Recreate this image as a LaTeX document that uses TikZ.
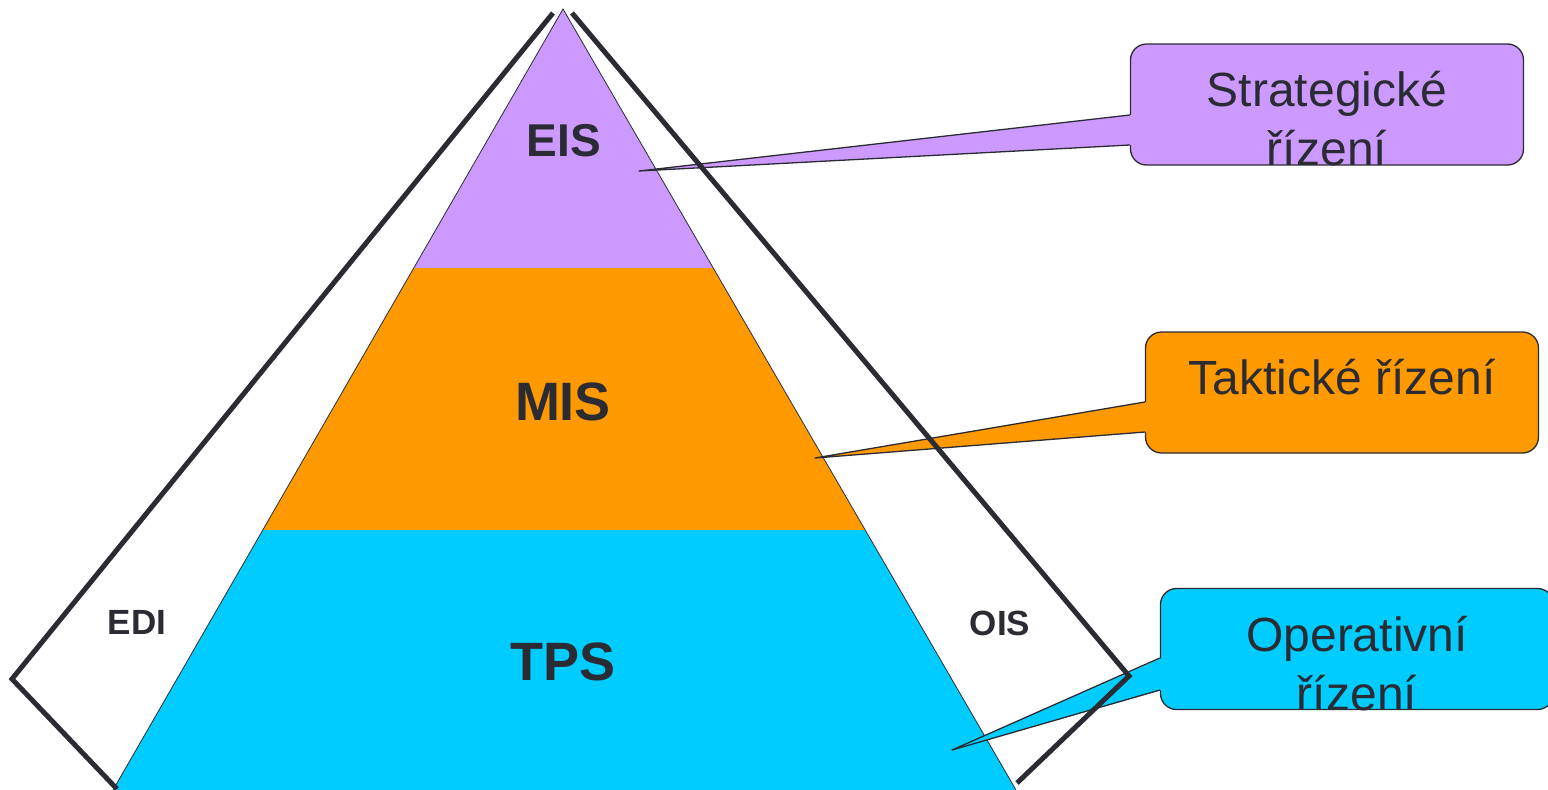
\documentclass[tikz,border=0pt]{standalone}
\usepackage{fontspec}
\setmainfont{Liberation Sans}
\usepackage{tikz}
\usetikzlibrary{positioning}
\definecolor{fialova}{HTML}{CC99FF}
\definecolor{oranzova}{HTML}{FF9900}
\definecolor{modra}{HTML}{00CCFF}
\definecolor{tmava}{HTML}{2B2B33}
\tikzset{
    %Define style for callout boxes
    bublina/.style={
           rectangle,
           rounded corners=16pt,
           draw=tmava,
           line width=1.3pt,
           minimum width=393pt,
           minimum height=121pt},
    %Define style for callout texts
    popis/.style={
           text=tmava,
           font=\fontsize{48}{59}\selectfont,
           align=center,
           inner sep=0pt},
    %Define style for callout pointers
    ukazatel/.style={
           draw=tmava,
           line width=1.3pt,
           line join=round},
    %Define style for the thick frame
    ram/.style={
           draw=tmava,
           line width=5pt},
    %Define style for layer labels
    vrstva/.style={
           text=tmava,
           inner sep=0pt,
           font=\bfseries\fontsize{54}{60}\selectfont}
}

\begin{document}
\begin{tikzpicture}[x=1pt,y=-1pt]
  \useasboundingbox (0,0) rectangle (1548,790);
  % pyramid
  \coordinate (vrchol) at (563,9);
  \coordinate (levy) at (113,790);
  \coordinate (pravy) at (1016,790);
  \fill[fialova] (vrchol) -- (414,268) -- (713,268) -- cycle;
  \fill[oranzova] (414,268) -- (263,530) -- (865,530) -- (713,268) -- cycle;
  \fill[modra] (263,530) -- (levy) -- (pravy) -- (865,530) -- cycle;
  \draw[tmava, line width=0.8pt] (levy) -- (vrchol) -- (pravy);

  % callouts
  \node[bublina, fill=fialova] (strbox) at (1327,104.5) {};
  \node[popis, below=28pt of strbox.north] (strtext) {Strategické\\řízení};
  \coordinate (strhrot) at (639,171);
  \coordinate (strA) at (strbox.west |- 0,115);
  \coordinate (strB) at (strbox.west |- 0,145);
  \fill[fialova] (strhrot) -- ([xshift=2pt]strA) -- ([xshift=2pt]strB) -- cycle;
  \draw[ukazatel] (strA) -- (strhrot) -- (strB);

  \node[bublina, fill=oranzova] (takbox) at (1342,392.5) {};
  \node[popis, below=28pt of takbox.north] (taktext) {Taktické řízení};
  \coordinate (takhrot) at (815,458);
  \coordinate (takA) at (takbox.west |- 0,402);
  \coordinate (takB) at (takbox.west |- 0,432);
  \fill[oranzova] (takhrot) -- ([xshift=2pt]takA) -- ([xshift=2pt]takB) -- cycle;
  \draw[ukazatel] (takA) -- (takhrot) -- (takB);

  \node[bublina, fill=modra] (opbox) at (1357,649) {};
  \node[popis, below=28pt of opbox.north] (optext) {Operativní\\řízení};
  \coordinate (ophrot) at (952,750);
  \coordinate (opA) at (opbox.west |- 0,658);
  \coordinate (opB) at (opbox.west |- 0,690);
  \fill[modra] (ophrot) -- ([xshift=2pt]opA) -- ([xshift=2pt]opB) -- cycle;
  \draw[ukazatel] (opA) -- (ophrot) -- (opB);

  % frame lines
  \coordinate (edi1) at (553,13);
  \coordinate (edi2) at (12,679);
  \coordinate (edi3) at (117,789);
  \coordinate (ois1) at (572,13);
  \coordinate (ois2) at (1129,676);
  \coordinate (ois3) at (1017,783);
  \draw[ram] (edi1) -- (edi2) -- (edi3);
  \draw[ram] (ois1) -- (ois2) -- (ois3);

  % labels
  \node[vrstva, font=\bfseries\fontsize{46}{50}\selectfont] (eis) at (564,141) {EIS};
  \node[vrstva] (mis) at (563,402) {MIS};
  \node[vrstva] (tps) at (563,662) {TPS};
  \node[vrstva, font=\bfseries\fontsize{35}{40}\selectfont] (edi) at (137,622) {EDI};
  \node[vrstva, font=\bfseries\fontsize{35}{40}\selectfont] (ois) at (1000,623) {OIS};
\end{tikzpicture}
\end{document}
